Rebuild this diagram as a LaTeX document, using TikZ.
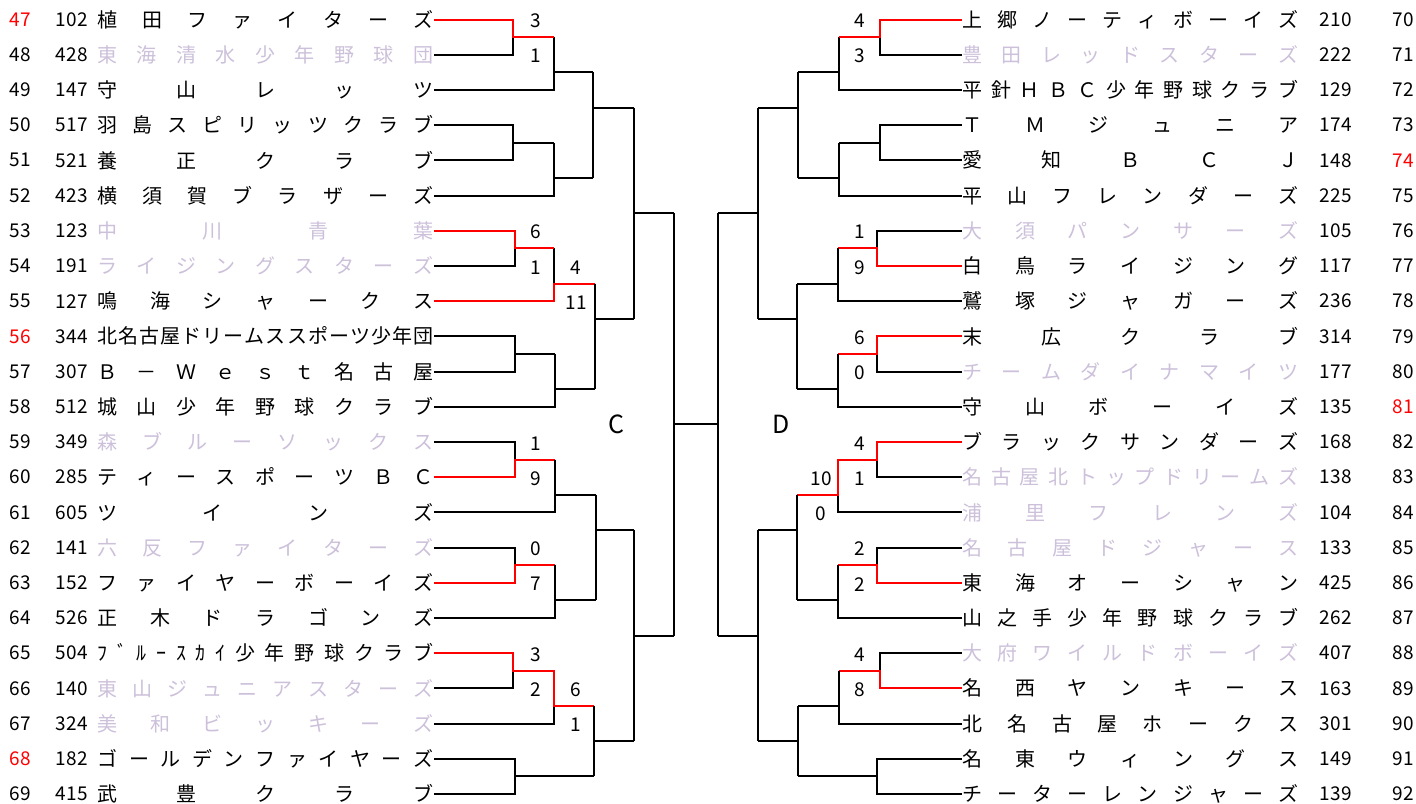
\documentclass[tikz,border=0pt]{standalone}
\usepackage{fontspec}
\setmainfont{Noto Sans CJK JP}
\definecolor{lose}{RGB}{204,192,218}
% Chữ rải đều trong ô
\def\spreadloop#1{\ifx\relax#1\else#1\expandafter\spreadnext\fi}
\def\spreadnext#1{\ifx\relax#1\else\hfill#1\expandafter\spreadnext\fi}
\newcommand\spreadname[1]{\makebox[168pt][s]{\expandafter\spreadloop#1\relax}}
\tikzset{
  bk/.style={line width=1pt},
  win/.style={bk, red},
  team/.style={inner sep=0pt, font=\fontsize{10}{12}\selectfont},
  num/.style={anchor=east, inner sep=0pt, font=\fontsize{9.5}{11}\selectfont},
  score/.style={inner sep=0pt, font=\fontsize{9.5}{11}\selectfont},
}

\begin{document}
\begin{tikzpicture}[x=0.5pt, y=-8.8pt]
    \useasboundingbox (0,-0.108) rectangle (1416,45.517);
    % Các đội bên trái
    \foreach \no/\rc/\num/\nm/\tc [count=\i from 0] in {
      47/red/102/植田ファイターズ/black,
      48/black/428/東海清水少年野球団/lose,
      49/black/147/守山レッツ/black,
      50/black/517/羽島スピリッツクラブ/black,
      51/black/521/養正クラブ/black,
      52/black/423/横須賀ブラザーズ/black,
      53/black/123/中川青葉/lose,
      54/black/191/ライジングスターズ/lose,
      55/black/127/鳴海シャークス/black,
      56/red/344/北名古屋ドリームススポーツ少年団/black,
      57/black/307/Ｂ－Ｗｅｓｔ名古屋/black,
      58/black/512/城山少年野球クラブ/black,
      59/black/349/森ブルーソックス/lose,
      60/black/285/ティースポーツＢＣ/black,
      61/black/605/ツインズ/black,
      62/black/141/六反ファイターズ/lose,
      63/black/152/ファイヤーボーイズ/black,
      64/black/526/正木ドラゴンズ/black,
      65/black/504/ﾌﾞﾙｰｽｶｲ少年野球クラブ/black,
      66/black/140/東山ジュニアスターズ/lose,
      67/black/324/美和ビッキーズ/lose,
      68/red/182/ゴールデンファイヤーズ/black,
      69/black/415/武豊クラブ/black} {
      \node[num, text=\rc] (nL\no) at (31,{2*\i+1}) {\no};
      \node[num] (sL\no) at (88,{2*\i+1}) {\num};
      \node[team, anchor=west, text=\tc] (L\no) at (97,{2*\i+1}) {\spreadname{\nm}};
    }
    % Các đội bên phải
    \foreach \no/\rc/\num/\nm/\tc [count=\i from 0] in {
      70/black/210/上郷ノーティボーイズ/black,
      71/black/222/豊田レッドスターズ/lose,
      72/black/129/平針ＨＢＣ少年野球クラブ/black,
      73/black/174/ＴＭジュニア/black,
      74/red/148/愛知ＢＣＪ/black,
      75/black/225/平山フレンダーズ/black,
      76/black/105/大須パンサーズ/lose,
      77/black/117/白鳥ライジング/black,
      78/black/236/鷲塚ジャガーズ/black,
      79/black/314/末広クラブ/black,
      80/black/177/チームダイナマイツ/lose,
      81/red/135/守山ボーイズ/black,
      82/black/168/ブラックサンダーズ/black,
      83/black/138/名古屋北トップドリームズ/lose,
      84/black/104/浦里フレンズ/lose,
      85/black/133/名古屋ドジャース/lose,
      86/black/425/東海オーシャン/black,
      87/black/262/山之手少年野球クラブ/black,
      88/black/407/大府ワイルドボーイズ/lose,
      89/black/163/名西ヤンキース/black,
      90/black/301/北名古屋ホークス/black,
      91/black/149/名東ウィングス/black,
      92/black/139/チーターレンジャーズ/black} {
      \node[team, anchor=west, text=\tc] (R\no) at (962,{2*\i+1}) {\spreadname{\nm}};
      \node[num] (sR\no) at (1352,{2*\i+1}) {\num};
      \node[num, text=\rc] (nR\no) at (1414,{2*\i+1}) {\no};
    }
    % Nhánh C
    \draw[bk] (L48.east) -| (513,2);
    \draw[bk] (L49.east) -| (554,2) (554,4) -- (593,4);
    \draw[win] (L47.east) -| (513,2) -- (554,2);
    \draw[bk] (L50.east) -| (513,8) |- (L51.east) (513,8) -- (554,8);
    \draw[bk] (L52.east) -| (554,8) (554,10) -- (593,10);
    \draw[bk] (593,4) -- (593,10) (593,6) -- (634,6);
    \draw[bk] (L54.east) -| (515,14) (554,14) -- (554,16);
    \draw[win] (L53.east) -| (515,14) -- (554,14);
    \draw[win] (L55.east) -| (554,16) -- (595,16);
    \draw[bk] (L56.east) -| (515,20) |- (L57.east) (515,20) -- (555,20);
    \draw[bk] (L58.east) -| (555,20) (555,22) -- (595,22);
    \draw[bk] (595,16) -- (595,22) (595,18) -- (634,18);
    \draw[bk] (634,6) -- (634,18) (634,12) -- (674,12);
    \draw[bk] (L59.east) -| (515,26);
    \draw[win] (L60.east) -| (515,26) -- (555,26);
    \draw[bk] (L61.east) -| (555,26) (555,28) -- (596,28);
    \draw[bk] (L62.east) -| (515,32);
    \draw[win] (L63.east) -| (515,32) -- (555,32);
    \draw[bk] (L64.east) -| (555,32) (555,34) -- (596,34);
    \draw[bk] (596,28) -- (596,34) (596,30) -- (634,30);
    \draw[bk] (L66.east) -| (513,38);
    \draw[bk] (L67.east) -| (554,40);
    \draw[win] (L65.east) -| (513,38) -| (554,40) -- (594,40);
    \draw[bk] (L68.east) -| (515,44) |- (L69.east) (515,44) -- (594,44);
    \draw[bk] (594,40) -- (594,44) (594,42) -- (634,42);
    \draw[bk] (634,30) -- (634,42) (634,36) -- (674,36);
    % Nhánh D
    \draw[bk] (R71.west) -| (880,2);
    \draw[bk] (R72.west) -| (839,2) (839,4) -- (798,4);
    \draw[win] (R70.west) -| (880,2) -- (839,2);
    \draw[bk] (R73.west) -| (880,8) |- (R74.west) (880,8) -- (839,8);
    \draw[bk] (R75.west) -| (839,8) (839,10) -- (798,10);
    \draw[bk] (798,4) -- (798,10) (798,6) -- (758,6);
    \draw[bk] (R76.west) -| (877,14);
    \draw[win] (R77.west) -| (877,14) -- (838,14);
    \draw[bk] (R78.west) -| (838,14) (838,16) -- (797,16);
    \draw[bk] (R80.west) -| (877,20);
    \draw[win] (R79.west) -| (877,20) -- (838,20);
    \draw[bk] (R81.west) -| (838,20) (838,22) -- (797,22);
    \draw[bk] (797,16) -- (797,22) (797,18) -- (758,18);
    \draw[bk] (758,6) -- (758,18) (758,12) -- (718,12);
    \draw[bk] (R83.west) -| (877,26);
    \draw[bk] (R84.west) -| (838,28);
    \draw[win] (R82.west) -| (877,26) -| (838,28) -- (797,28);
    \draw[bk] (R85.west) -| (877,32);
    \draw[win] (R86.west) -| (877,32) -- (838,32);
    \draw[bk] (R87.west) -| (838,32) (838,34) -- (797,34);
    \draw[bk] (797,28) -- (797,34) (797,30) -- (758,30);
    \draw[bk] (R88.west) -| (880,38);
    \draw[win] (R89.west) -| (880,38) -- (839,38);
    \draw[bk] (R90.west) -| (839,38) (839,40) -- (798,40);
    \draw[bk] (R91.west) -| (877,44) |- (R92.west) (877,44) -- (798,44);
    \draw[bk] (798,40) -- (798,44) (798,42) -- (758,42);
    \draw[bk] (758,30) -- (758,42) (758,36) -- (718,36);
    % Chung kết
    \draw[bk] (674,12) -- (674,36) (674,24) -- (718,24) (718,12) -- (718,36);
    \node[font=\fontsize{12.5}{14}\selectfont] (lblC) at (616,24) {C};
    \node[font=\fontsize{12.5}{14}\selectfont] (lblD) at (781,24) {D};
    % Tỉ số
    \foreach \x/\r/\s [count=\k] in {536/1/3, 536/3/1, 536/13/6, 536/15/1, 576/15/4,
      576/17/11, 536/25/1, 536/27/9, 536/31/0, 536/33/7, 536/37/3, 536/39/2, 576/39/6,
      576/41/1, 860/1/4, 860/3/3, 860/13/1, 860/15/9, 860/19/6, 860/21/0, 860/25/4,
      860/27/1, 821/27/10, 821/29/0, 860/31/2, 860/33/2, 860/37/4, 860/39/8}
      \node[score] (sc\k) at (\x,{\r+0.08}) {\s};
\end{tikzpicture}
\end{document}
